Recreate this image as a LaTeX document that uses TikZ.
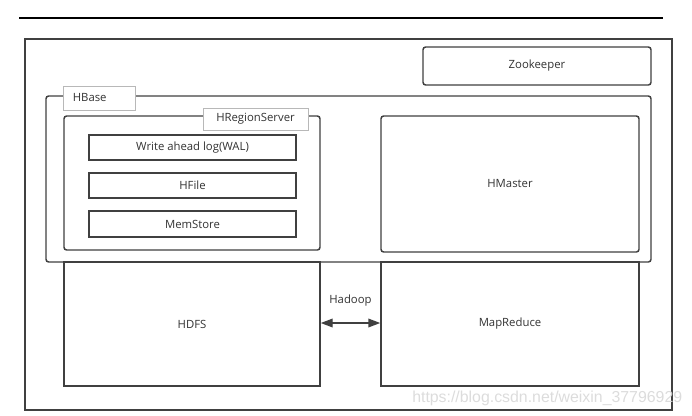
\documentclass[tikz,border=0pt]{standalone}
\usepackage{fontspec}
\setmainfont{Open Sans}
\newfontfamily\wmfont{Liberation Sans}
\usetikzlibrary{arrows.meta}
\definecolor{linegray}{HTML}{404040}
\definecolor{tabgray}{HTML}{B8B8B8}
\definecolor{txtgray}{HTML}{333333}
\definecolor{wmgray}{HTML}{D8D8D8}

\begin{document}
\begin{tikzpicture}[x=0.75pt,y=-0.75pt,
    every node/.style={font=\fontsize{8.5}{10}\selectfont, text=txtgray},
    box/.style={draw=linegray, line width=1.1pt, fill=white, inner sep=0pt},
    roundbox/.style={box, rounded corners=2pt},
    tab/.style={draw=tabgray, line width=0.7pt, fill=white, inner sep=0pt},
    link/.style={draw=linegray, line width=1.1pt, {Triangle[length=9pt,width=6.5pt]}-{Triangle[length=9pt,width=6.5pt]}}]
    \useasboundingbox (0,0) rectangle (692,415);
    % page rule and frame
    \draw[black, line width=1.2pt] (19,18) -- (663,18);
    \draw[linegray, line width=1.4pt] (25,39) rectangle (672,410);

    \node[roundbox, minimum width=171pt, minimum height=28.5pt] (zookeeper) at (537,66) {Zookeeper};

    % HBase
    \node[roundbox, minimum width=453.75pt, minimum height=124.5pt] (hbase) at (348.5,179) {};
    \node[tab, anchor=west, text width=40pt, inner xsep=7pt, align=left, minimum height=18pt] (hbasetab) at (63,98) {HBase};

    \node[roundbox, minimum width=192pt, minimum height=100.5pt] (hregion) at (192,183) {};
    \node[tab, minimum width=78.75pt, minimum height=16.5pt] (hregiontab) at (255.5,119) {HRegionServer};

    \node[box, minimum width=155.25pt, minimum height=18.75pt] (wal) at (192.5,147.5) {Write ahead log(WAL)};
    \node[box, minimum width=155.25pt, minimum height=18.75pt] (hfile) at (192.5,185.5) {HFile};
    \node[box, minimum width=155.25pt, minimum height=19.5pt] (memstore) at (192.5,224) {MemStore};

    \node[roundbox, minimum width=193.5pt, minimum height=102pt] (hmaster) at (510,184) {HMaster};

    % Hadoop
    \node[box, minimum width=192pt, minimum height=93pt] (hdfs) at (192,324) {HDFS};
    \node[box, minimum width=193.5pt, minimum height=93pt] (mapreduce) at (510,324) {MapReduce};
    \draw[link] (hdfs.east |- 0,323) -- node[above=9pt] (hadoop) {Hadoop} (mapreduce.west |- 0,323);

    \node[anchor=base west, inner sep=0pt, font=\wmfont\fontsize{11.9}{14}\selectfont, text=wmgray, opacity=0.9] (watermark) at (412,402) {https://blog.csdn.net/weixin\_37796929};
\end{tikzpicture}
\end{document}
